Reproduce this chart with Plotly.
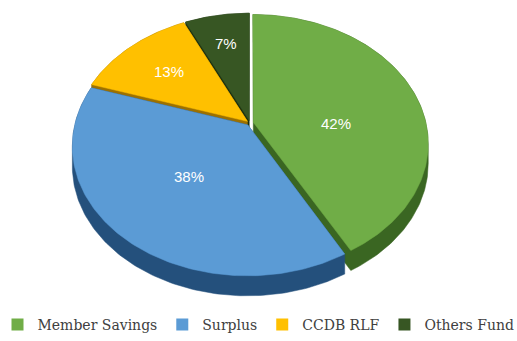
import numpy as np
import plotly.graph_objects as go

# Fund composition
categories = ["Member Savings", "Surplus", "CCDB RLF", "Others Fund"]
shares = [42, 38, 13, 7]
labels = ["42%", "38%", "13%", "7%"]

top_colors = ["#70AD47", "#5B9BD5", "#FFC000", "#375623"]
side_colors = ["#3a6622", "#24507c", "#9c7000", "#1b3010"]

# Canvas and tilted-disc projection settings (screen-pixel coordinates)
W, H = 517, 341
CX, CY = 250, 123          # projected centre of the disc
A, B = 172.6, 125.6        # horizontal / vertical scale
K = 0.163                  # perspective: far side appears smaller
DEPTH = 20                 # visible thickness of the disc
EXPLODE = 0.02             # small separation between slices
# label placement inside each slice: (fraction of the sweep, radius)
LABEL_POS = [(0.6, 0.48), (0.5, 0.5), (0.5, 0.65), (0.5, 0.7)]


def project(X, Yd):
    w = 1 + K * Yd
    return CX + A * X / w, CY - B * Yd / w


def convex_hull(points):
    pts = sorted(set((round(x, 4), round(y, 4)) for x, y in points))

    def cross(o, a, b):
        return (a[0] - o[0]) * (b[1] - o[1]) - (a[1] - o[1]) * (b[0] - o[0])

    lower, upper = [], []
    for p in pts:
        while len(lower) >= 2 and cross(lower[-2], lower[-1], p) <= 0:
            lower.pop()
        lower.append(p)
    for p in reversed(pts):
        while len(upper) >= 2 and cross(upper[-2], upper[-1], p) <= 0:
            upper.pop()
        upper.append(p)
    return lower[:-1] + upper[:-1]


total = float(sum(shares))
fractions = np.array(shares) / total
starts = np.concatenate([[0.0], np.cumsum(fractions)[:-1]]) * 2 * np.pi
ends = np.cumsum(fractions) * 2 * np.pi
mids = (starts + ends) / 2

# paint the slices from the far side of the disc to the near side
order = sorted(range(len(shares)), key=lambda i: -np.cos(mids[i]))

fig = go.Figure()
annotations = []

for i in order:
    ox, oy = EXPLODE * np.sin(mids[i]), EXPLODE * np.cos(mids[i])
    n = max(12, int(fractions[i] * 400))
    th = np.linspace(starts[i], ends[i], n)
    Xs = np.concatenate([[ox], ox + np.sin(th)])
    Ys = np.concatenate([[oy], oy + np.cos(th)])
    px, py = project(Xs, Ys)

    # side walls: the extruded outline of the slice
    pts = list(zip(px, py)) + list(zip(px, py + DEPTH))
    hull = convex_hull(pts)
    hx = [p[0] for p in hull] + [hull[0][0]]
    hy = [p[1] for p in hull] + [hull[0][1]]
    fig.add_trace(go.Scatter(
        x=hx, y=hy, mode="lines", fill="toself",
        fillcolor=side_colors[i], line=dict(width=0.5, color=side_colors[i]),
        hoverinfo="skip", showlegend=False,
    ))

    # top face
    fig.add_trace(go.Scatter(
        x=np.append(px, px[0]), y=np.append(py, py[0]), mode="lines",
        fill="toself", fillcolor=top_colors[i],
        line=dict(width=0.5, color=top_colors[i]),
        name=categories[i], text=labels[i], hoverinfo="name+text",
        showlegend=False,
    ))

    f, r = LABEL_POS[i]
    ang = starts[i] + f * (ends[i] - starts[i])
    lx, ly = project(ox + r * np.sin(ang), oy + r * np.cos(ang))
    annotations.append(dict(
        x=lx, y=ly, xref="x", yref="y", text=labels[i], showarrow=False,
        font=dict(family="Liberation Sans, Arial, sans-serif", size=15,
                  color="white"),
    ))

# legend entries
for i, name in enumerate(categories):
    fig.add_trace(go.Scatter(
        x=[None], y=[None], mode="markers", name=name,
        marker=dict(symbol="square", size=12, color=top_colors[i]),
    ))

fig.update_layout(
    width=W, height=H,
    margin=dict(l=0, r=0, t=0, b=0),
    paper_bgcolor="white", plot_bgcolor="white",
    xaxis=dict(range=[0, W], visible=False, fixedrange=True),
    yaxis=dict(range=[H, 0], visible=False, fixedrange=True),
    annotations=annotations,
    showlegend=True,
    legend=dict(
        orientation="h", x=0.5, xanchor="center",
        y=(H - 325) / H, yanchor="middle",
        font=dict(family="DejaVu Serif, serif", size=14, color="#404040"),
        itemclick=False, itemdoubleclick=False,
        bgcolor="rgba(0,0,0,0)",
    ),
)

fig.write_html("out.html")
